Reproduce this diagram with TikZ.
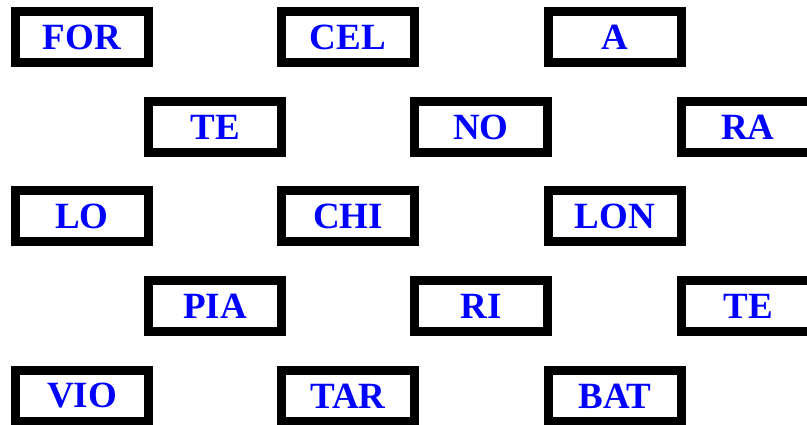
\documentclass[tikz,border=0pt]{standalone}
\usepackage{fontspec}
\setmainfont{Liberation Serif}
\usetikzlibrary{positioning}
\definecolor{sylblue}{HTML}{0000FF}
\tikzset{
  every picture/.style={line width=9pt},
  syll/.style={draw=black, line width=9pt, fill=white, inner sep=0pt,
    minimum width=133pt, minimum height=51pt,
    text=sylblue, font=\fontsize{37}{40}\selectfont\bfseries},
}
\begin{document}
\begin{tikzpicture}[x=1pt, y=-1pt]
  \clip (0,0) rectangle (807,424);
  \fill[white] (0,0) rectangle (807,424);
  % ---- row 1 ----
  \node[syll] (for) at (82,37) {FOR};
  \node[syll] (cel) at (348,37) {CEL};
  \node[syll] (a) at (615,37) {A};
  % ---- row 2 ----
  \node[syll] (te1) at (215,127) {TE};
  \node[syll] (no) at (481,127) {NO};
  \node[syll] (ra) at (748,127) {RA};
  % ---- row 3 ----
  \node[syll] (lo) at (82,216) {LO};
  \node[syll] (chi) at (348,216) {CHI};
  \node[syll] (lon) at (615,216) {LON};
  % ---- row 4 ----
  \node[syll] (pia) at (215,306) {PIA};
  \node[syll] (ri) at (481,306) {RI};
  \node[syll] (te2) at (748,306) {TE};
  % ---- row 5 ----
  \node[syll] (vio) at (82,396) {VIO};
  \node[syll] (tar) at (348,396) {TAR};
  \node[syll] (bat) at (615,396) {BAT};
\end{tikzpicture}
\end{document}
